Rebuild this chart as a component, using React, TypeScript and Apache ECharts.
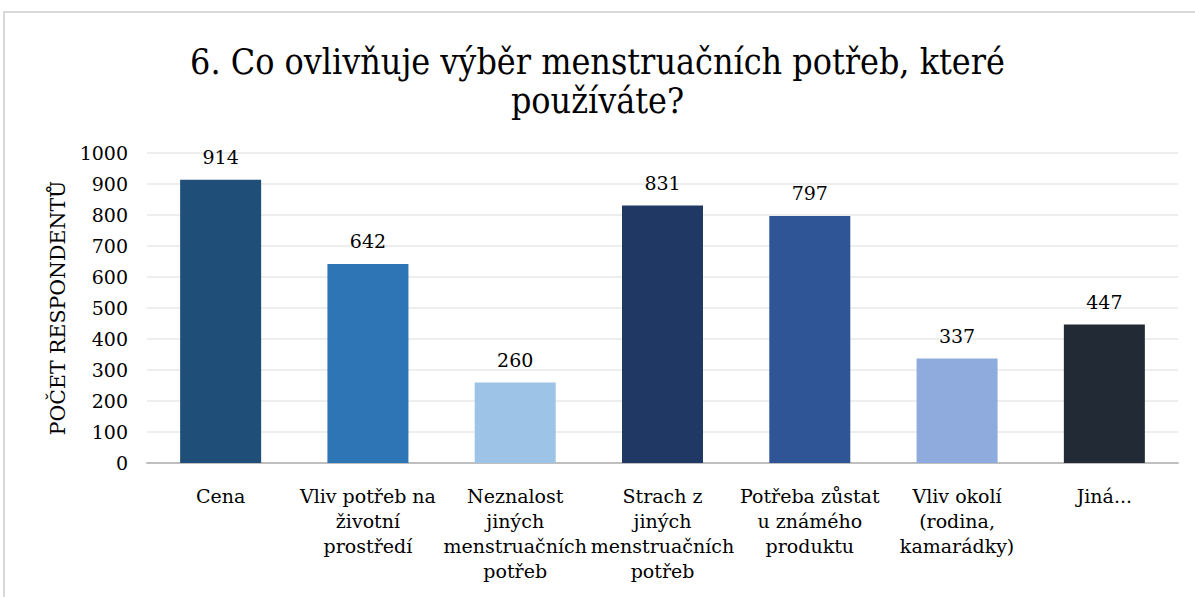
import React, { useEffect, useRef } from "react";
import * as echarts from "echarts";

const categories = [
  "Cena",
  "Vliv potřeb na životní prostředí",
  "Neznalost jiných menstruačních potřeb",
  "Strach z jiných menstruačních potřeb",
  "Potřeba zůstat u známého produktu",
  "Vliv okolí (rodina, kamarádky)",
  "Jiná...",
];
const wrappedLabels = [
  "Cena",
  "Vliv potřeb na\nživotní\nprostředí",
  "Neznalost\njiných\nmenstruačních\npotřeb",
  "Strach z\njiných\nmenstruačních\npotřeb",
  "Potřeba zůstat\nu známého\nproduktu",
  "Vliv okolí\n(rodina,\nkamarádky)",
  "Jiná...",
];
const values = [914, 642, 260, 831, 797, 337, 447];
const colors = ["#1F4E79", "#2E75B6", "#9DC3E6", "#203864", "#2F5597", "#8FAADC", "#222A35"];
const title = "6. Co ovlivňuje výběr menstruačních potřeb, které\npoužíváte?";
const yName = "POČET RESPONDENTŮ";

const FONT = "DejaVu Serif";

export default function App() {
  const ref = useRef<HTMLDivElement>(null);
  useEffect(() => {
    const chart = echarts.init(ref.current!, null, { renderer: "svg" });
    chart.setOption({
      animation: false,
      backgroundColor: "#ffffff",
      title: {
        text: title,
        left: "center",
        top: 37,
        textStyle: { fontFamily: "DejaVu Serif Condensed, DejaVu Serif", fontSize: 35.5, fontWeight: "normal", color: "#000", lineHeight: 39 },
      },
      graphic: [
        {
          type: "rect",
          shape: { x: 4, y: 12, width: 1400, height: 800 },
          style: { fill: "none", stroke: "#d9d9d9", lineWidth: 2 },
          silent: true,
        },
      ],
      grid: { left: 147, right: 17, top: 153, bottom: 134 },
      xAxis: {
        type: "category",
        data: categories,
        axisLine: { lineStyle: { color: "#bfbfbf", width: 2 } },
        axisTick: { show: false },
        axisLabel: {
          interval: 0,
          margin: 20,
          fontFamily: FONT,
          fontSize: 19,
          lineHeight: 25,
          color: "#000",
          formatter: (_v: string, i: number) => wrappedLabels[i],
        },
      },
      yAxis: {
        type: "value",
        min: 0,
        max: 1000,
        interval: 100,
        name: yName,
        nameLocation: "middle",
        nameGap: 79,
        nameTextStyle: { fontFamily: FONT, fontSize: 20.5, color: "#000" },
        axisLine: { show: false },
        axisTick: { show: false },
        axisLabel: { fontFamily: FONT, fontSize: 19, color: "#000", margin: 19, formatter: (v: number) => String(v) },
        splitLine: { lineStyle: { color: "#e8e8e8", width: 1.5 } },
      },
      series: [
        {
          type: "bar",
          data: values.map((v, i) => ({ value: v, itemStyle: { color: colors[i] } })),
          barWidth: "55%",
          label: {
            show: true,
            position: "top",
            distance: 13,
            fontFamily: FONT,
            fontSize: 19,
            color: "#000",
          },
        },
      ],
    });
    return () => chart.dispose();
  }, []);
  return (
    <div
      ref={ref}
      style={{ position: "absolute", left: 0, top: 0, width: 1195, height: 597 }}
    />
  );
}
